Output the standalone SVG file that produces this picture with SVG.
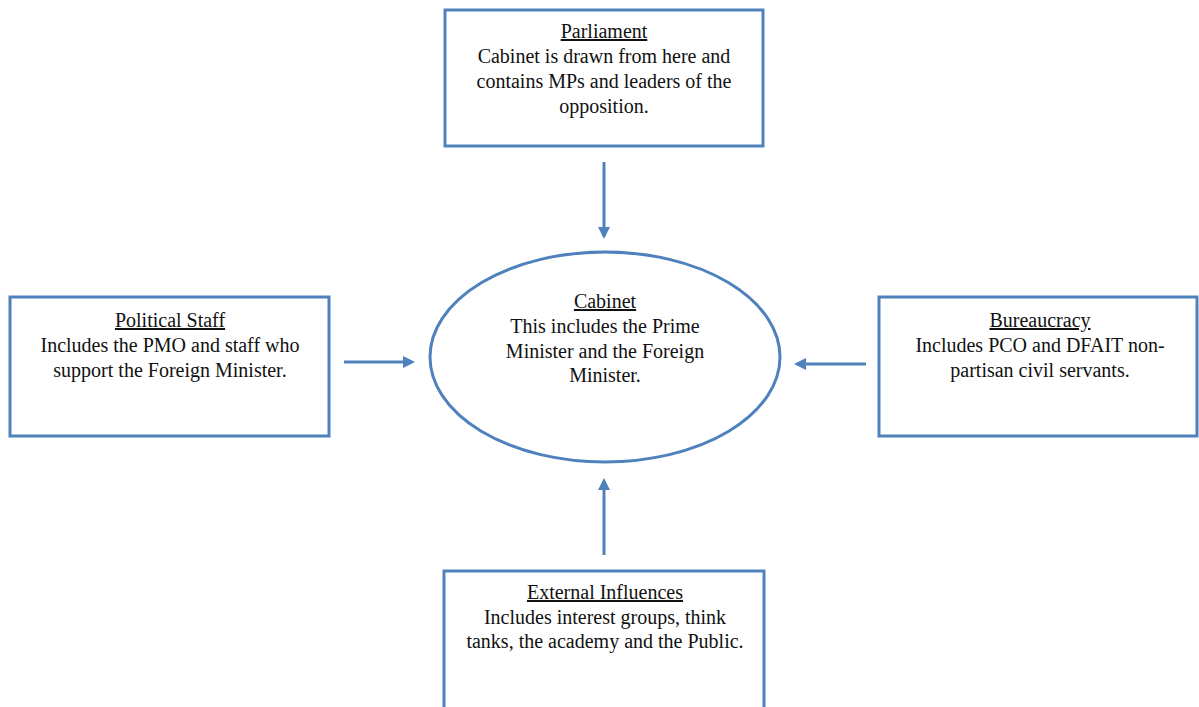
<svg xmlns="http://www.w3.org/2000/svg" width="1199" height="707" viewBox="0 0 1199 707">
<style>
.box{fill:#fff;stroke:#4f81bd;stroke-width:3}
.t{font-family:"Liberation Serif",serif;font-size:20px;fill:#111;text-anchor:middle}
.u{text-decoration:underline}
.c{stroke:#4f81bd;stroke-width:3;fill:none}
</style>
<defs>
<marker id="ah" markerWidth="4" markerHeight="4" refX="3" refY="2" orient="auto" markerUnits="strokeWidth">
<path d="M0,0 L4,2 L0,4 z" fill="#4f81bd"/>
</marker>
</defs>
<rect width="1199" height="707" fill="#fff"/>
<g id="connectors">
<line class="c" x1="604" y1="162" x2="604" y2="236" marker-end="url(#ah)"/>
<line class="c" x1="344" y1="362" x2="412" y2="362" marker-end="url(#ah)"/>
<line class="c" x1="866" y1="364" x2="797" y2="364" marker-end="url(#ah)"/>
<line class="c" x1="604" y1="555" x2="604" y2="481" marker-end="url(#ah)"/>
</g>
<g id="parliament">
<rect class="box" x="445" y="10" width="318" height="136"/>
<text class="t u" x="604" y="38">Parliament</text>
<text class="t" x="604" y="63">Cabinet is drawn from here and</text>
<text class="t" x="604" y="88">contains MPs and leaders of the</text>
<text class="t" x="604" y="113">opposition.</text>
</g>
<g id="political-staff">
<rect class="box" x="10" y="297" width="319" height="139"/>
<text class="t u" x="170" y="327">Political Staff</text>
<text class="t" x="170" y="352">Includes the PMO and staff who</text>
<text class="t" x="170" y="377">support the Foreign Minister.</text>
</g>
<g id="cabinet">
<ellipse cx="605" cy="357" rx="175" ry="105" fill="#fff" stroke="#4f81bd" stroke-width="3"/>
<text class="t u" x="605" y="308">Cabinet</text>
<text class="t" x="605" y="333">This includes the Prime</text>
<text class="t" x="605" y="358">Minister and the Foreign</text>
<text class="t" x="605" y="382">Minister.</text>
</g>
<g id="bureaucracy">
<rect class="box" x="879" y="297" width="318" height="139"/>
<text class="t u" x="1040" y="327">Bureaucracy</text>
<text class="t" x="1040" y="352">Includes PCO and DFAIT non-</text>
<text class="t" x="1040" y="377">partisan civil servants.</text>
</g>
<g id="external-influences">
<rect class="box" x="444" y="571" width="320" height="150"/>
<text class="t u" x="605" y="599">External Influences</text>
<text class="t" x="605" y="624">Includes interest groups, think</text>
<text class="t" x="605" y="648">tanks, the academy and the Public.</text>
</g>
</svg>
